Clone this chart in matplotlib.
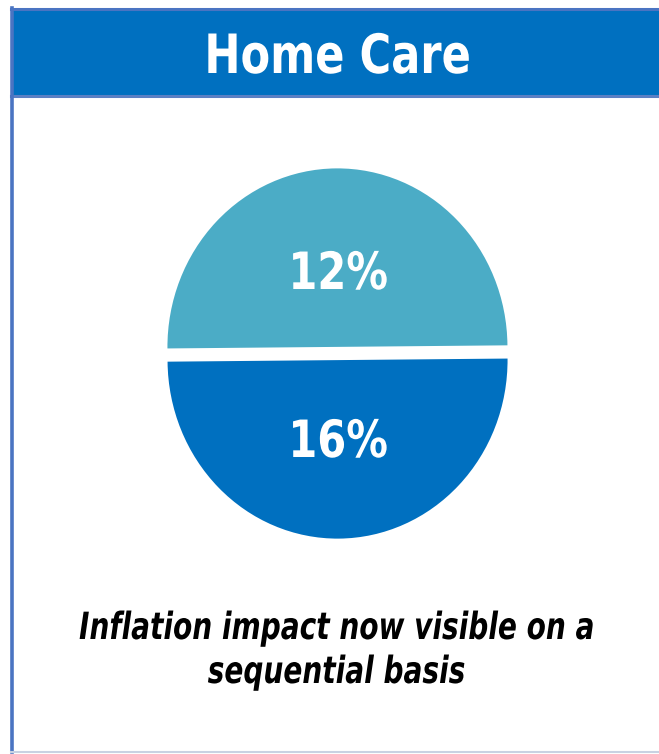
import matplotlib
matplotlib.use("Agg")
import matplotlib.pyplot as plt
from matplotlib.patches import Rectangle
from matplotlib import patheffects
from matplotlib.transforms import Affine2D

# Panel content
panel_title = "Home Care"
slice_labels = ["12%", "16%"]
slice_shares = [50, 50]
slice_colors = ["#4BACC6", "#0070C0"]
caption_lines = ["Inflation impact now visible on a", "sequential basis"]


class Narrow(patheffects.AbstractPathEffect):
    """Squeeze glyphs horizontally about the text's own centre."""

    def __init__(self, sx):
        super().__init__()
        self.sx = sx

    def draw_path(self, renderer, gc, tpath, affine, rgbFace=None):
        ext = tpath.get_extents(affine)
        cx = 0.5 * (ext.x0 + ext.x1)
        t = affine + Affine2D().translate(-cx, 0).scale(self.sx, 1).translate(cx, 0)
        renderer.draw_path(gc, tpath, t, rgbFace)


W, H = 659, 754
fig = plt.figure(figsize=(W / 100, H / 100), dpi=100)

# Pie on its own axes, slightly taller than wide
SY = 1.05
pax = fig.add_axes([0, 0, 1, 1])
pax.set_zorder(1)
pax.pie(
    slice_shares,
    colors=slice_colors,
    startangle=0.5,
    counterclock=True,
    radius=170,
    center=(337.5, (H - 353.5) / SY),
    explode=[6.3, 6.3],
    wedgeprops=dict(linewidth=0),
)
pax.set_xlim(0, W)
pax.set_ylim(0, H / SY)
pax.set_aspect("auto")
pax.axis("off")

# Overlay axes in pixel units for the frame and all text
ax = fig.add_axes([0, 0, 1, 1])
ax.set_zorder(2)
ax.set_xlim(0, W)
ax.set_ylim(0, H)
ax.axis("off")

# Header band and frame
ax.add_patch(Rectangle((11, H - 95), W - 11, 86, facecolor="#0070C0",
                       edgecolor="none", zorder=3))
ax.plot([11, W], [H - 96, H - 96], color="#5B80C4", lw=2.2, zorder=4)
ax.plot([11, W], [H - 9, H - 9], color="#4A74C2", lw=2.2, zorder=4)
ax.plot([11.5, 11.5], [2, H - 8], color="#4A74C2", lw=2.6, zorder=4)
ax.plot([11, W], [2.5, 2.5], color="#C8D2E2", lw=1.5, zorder=4)

bold = dict(family="DejaVu Sans", fontstretch="condensed", fontweight="bold")

ax.text(337.5, H - 73, panel_title, ha="center", va="baseline",
        fontsize=39, color="white", zorder=5,
        path_effects=[Narrow(0.886)], **bold)

label_baselines = [H - 289, H - 457]
for lab, yb in zip(slice_labels, label_baselines):
    ax.text(338, yb, lab, ha="center", va="baseline", fontsize=37,
            color="white", zorder=5, path_effects=[Narrow(0.9)], **bold)

caption_baselines = [H - 639, H - 683]
for line, yb in zip(caption_lines, caption_baselines):
    ax.text(336.5, yb, line, ha="center", va="baseline", fontsize=27,
            fontstyle="italic", color="black", zorder=5,
            path_effects=[Narrow(0.83)], **bold)

fig.savefig("out.png", dpi=100)
